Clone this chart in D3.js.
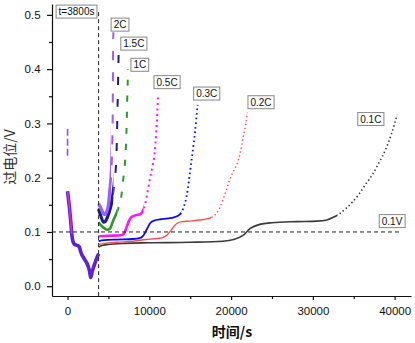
<!DOCTYPE html>
<html><head><meta charset="utf-8">
<script src="https://cdn.jsdelivr.net/npm/d3@7"></script>
<style>
body{margin:0;background:#fff;}
svg{display:block;}
</style></head>
<body>
<svg id="chart" width="415" height="343"></svg>
<script>
// ---------- DATA ----------
const rateLabels = ["0.1C","0.2C","0.3C","0.5C","1C","1.5C","2C"];
const commonSeg = [[0,0.175],[100,0.162],[250,0.142],[400,0.118],[520,0.096],[650,0.083],[800,0.078],[1000,0.076],[1250,0.075],[1450,0.072],[1600,0.064],[1750,0.058],[1950,0.053],[2140,0.048],[2350,0.043],[2540,0.036],[2700,0.027],[2840,0.016],[3000,0.026],[3200,0.036],[3360,0.043],[3550,0.051],[3800,0.06]];
const initSpike = [[0,0.29],[0,0.236]];
const s01C = [[3800,0.072],[4200,0.075],[5000,0.077],[7000,0.079],[10000,0.080],[15000,0.081],[19000,0.083],[20300,0.086],[21500,0.094],[22300,0.106],[23500,0.114],[25000,0.117],[28000,0.119],[30500,0.120],[31700,0.122],[32500,0.127],[33300,0.134],[34100,0.144],[34900,0.156],[35700,0.171],[36500,0.189],[37300,0.206],[38100,0.228],[38900,0.252],[39600,0.28],[40300,0.316]];
const s02C = [[3800,0.077],[4500,0.079],[6000,0.081],[8000,0.083],[9600,0.086],[11000,0.088],[11700,0.090],[12200,0.095],[12600,0.102],[13000,0.110],[13400,0.116],[14000,0.119],[15000,0.120],[16200,0.122],[17000,0.124],[17600,0.127],[18200,0.134],[18600,0.144],[19000,0.159],[19400,0.176],[19800,0.195],[20300,0.212],[20800,0.228],[21100,0.245],[21450,0.272],[21750,0.295],[22000,0.32]];
const s03C = [[3800,0.083],[4500,0.085],[6000,0.086],[8000,0.087],[8900,0.089],[9300,0.094],[9700,0.105],[10100,0.116],[10600,0.121],[11300,0.123],[12300,0.125],[13000,0.127],[13500,0.130],[13950,0.136],[14250,0.148],[14550,0.165],[14850,0.195],[15160,0.232],[15400,0.26],[15600,0.285],[15750,0.31],[15900,0.334]];
const s05C = [[3800,0.092],[5000,0.093],[6500,0.094],[6900,0.097],[7200,0.108],[7500,0.12],[7850,0.128],[8400,0.131],[8900,0.133],[9250,0.140],[9500,0.152],[9700,0.167],[10050,0.196],[10400,0.222],[10650,0.245],[10850,0.285],[11080,0.354]];
const s1C = [[3800,0.118],[4100,0.112],[4400,0.108],[4800,0.104],[5200,0.106],[5500,0.118],[5800,0.128],[6200,0.143],[6500,0.158],[6800,0.196],[7000,0.223],[7200,0.282],[7330,0.362],[7410,0.40]];
const s15C = [[3800,0.142],[4100,0.128],[4400,0.118],[4600,0.119],[4900,0.128],[5200,0.142],[5400,0.155],[5600,0.175],[5780,0.199],[5970,0.235],[6130,0.34],[6250,0.432]];
const s2C = [[3800,0.152],[4100,0.143],[4500,0.132],[4800,0.138],[5000,0.15],[5170,0.177],[5370,0.214],[5480,0.27],[5520,0.31],[5580,0.45],[5600,0.468]];
const seriesData = [s01C, s02C, s03C, s05C, s1C, s15C, s2C];
const xTicks = [0, 10000, 20000, 30000, 40000];
const yTicks = [0.0, 0.1, 0.2, 0.3, 0.4, 0.5];
const cutTime = 3800;
const refVolt = 0.1;
// label anchors in data coordinates (centres)
const labelPos = [[37090,0.308],[23660,0.339],[17020,0.355],[12170,0.376],[8840,0.408],[8110,0.447],[6420,0.482]];

// ---------- STYLE ----------
const colors = ["#3a3a3a","#ff4d4d","#0a0aff","#ff14ff","#2a9a2a","#1c1c8a","#a05cff"];
const widths = [1.6,1.4,1.8,2.6,2.6,3.2,3.2];
const breaks = [33000,17600,13900,9300,6100,5600,5300];
const dashes = ["1.4 2.6","1.4 2.6","1.6 3","2 3.5","6 10","8 14","9 12"];

const svg = d3.select("#chart");
const x = d3.scaleLinear().domain([-1900, 42000]).range([52, 411]);
const y = d3.scaleLinear().domain([-0.018, 0.52]).range([296, 4]);
const line = d3.line().x(d=>x(d[0])).y(d=>y(d[1])).curve(d3.curveMonotoneX);

const defs = svg.append("defs");
const plot = svg.append("g");

// common pre-3800 segment
plot.append("path").datum(commonSeg).attr("d", line)
  .attr("fill","none").attr("stroke","#5b22d6").attr("stroke-width",3.6).attr("stroke-linejoin","round");
plot.append("path").datum(commonSeg.slice(0,5)).attr("d", line)
  .attr("fill","none").attr("stroke","#e020e8").attr("stroke-width",1.6);
plot.append("path").datum(initSpike).attr("d", d3.line().x(d=>x(d[0])).y(d=>y(d[1])))
  .attr("fill","none").attr("stroke","#9050f0").attr("stroke-width",1.6).attr("stroke-dasharray","7 3");

seriesData.forEach((data,i)=>{
  const bx = x(breaks[i]);
  defs.append("clipPath").attr("id","cA"+i).append("rect").attr("x",0).attr("y",0).attr("width",bx).attr("height",343);
  defs.append("clipPath").attr("id","cB"+i).append("rect").attr("x",bx).attr("y",0).attr("width",415-bx).attr("height",343);
  plot.append("path").datum(data).attr("d", line).attr("clip-path","url(#cA"+i+")")
    .attr("fill","none").attr("stroke",colors[i]).attr("stroke-width",widths[i]).attr("stroke-linejoin","round");
  plot.append("path").datum(data).attr("d", line).attr("clip-path","url(#cB"+i+")")
    .attr("fill","none").attr("stroke",colors[i]).attr("stroke-width",Math.min(widths[i],2))
    .attr("stroke-dasharray",dashes[i]);
});

// reference lines
svg.append("line").attr("x1",x(cutTime)).attr("x2",x(cutTime)).attr("y1",y(0.505)).attr("y2",y(-0.018))
  .attr("stroke","#222").attr("stroke-width",1).attr("stroke-dasharray","4 3");
svg.append("line").attr("x1",x(-1900)).attr("x2",x(40800)).attr("y1",y(refVolt)).attr("y2",y(refVolt))
  .attr("stroke","#222").attr("stroke-width",1).attr("stroke-dasharray","4 3");

// axes
const tickFont = "'Liberation Sans', Arial, sans-serif";
const xAxis = svg.append("g").attr("transform","translate(0,296)")
  .call(d3.axisBottom(x).tickValues(xTicks).tickFormat(d3.format("d")).tickSize(4).tickSizeOuter(0));
svg.append("g").attr("transform","translate(0,296)")
  .call(d3.axisBottom(x).tickValues([5000,15000,25000,35000]).tickFormat("").tickSize(3).tickSizeOuter(0))
  .select(".domain").remove();
const yAxis = svg.append("g").attr("transform","translate(52,0)")
  .call(d3.axisLeft(y).tickValues(yTicks).tickFormat(d3.format(".1f")).tickSize(5).tickSizeOuter(0));
svg.append("g").attr("transform","translate(52,0)")
  .call(d3.axisLeft(y).tickValues([0.05,0.15,0.25,0.35,0.45]).tickFormat("").tickSize(3).tickSizeOuter(0))
  .select(".domain").remove();
svg.selectAll(".tick text").attr("font-family",tickFont).attr("font-size","11.5px").attr("fill","#111");
svg.selectAll(".domain, .tick line").attr("stroke","#111").attr("stroke-width",1.2);
xAxis.selectAll(".tick text").attr("dy","1.05em");
yAxis.selectAll(".tick text").attr("dx","-0.3em");

// titles
svg.append("text").attr("x",232).attr("y",337).attr("text-anchor","middle")
  .attr("font-family","'Noto Sans CJK SC', sans-serif").attr("font-weight","bold").attr("font-size","14px").attr("fill","#111")
  .text("时间/s");
svg.append("text").attr("transform","translate(9,157) rotate(-90)").attr("text-anchor","middle")
  .attr("dominant-baseline","central")
  .attr("font-family","'Noto Sans CJK SC', sans-serif").attr("font-size","14px").attr("fill","#333")
  .text("过电位/V");

// boxed labels
function boxLabel(cx, cy, txt){
  const g = svg.append("g");
  const t = g.append("text").attr("x",cx).attr("y",cy).attr("text-anchor","middle").attr("dominant-baseline","central")
    .attr("font-family",tickFont).attr("font-size","10px").attr("fill","#111").text(txt);
  const bb = t.node().getBBox();
  g.insert("rect","text").attr("x",bb.x-2.5).attr("y",cy-6.5).attr("width",bb.width+5).attr("height",13)
    .attr("fill","#fff").attr("stroke","#888").attr("stroke-width",1);
}
rateLabels.forEach((lab,i)=> boxLabel(x(labelPos[i][0]), y(labelPos[i][1]), lab));
boxLabel(x(39680), y(0.120), "0.1V");
boxLabel(x(1100), y(0.506), "t=3800s");
</script>
</body></html>
